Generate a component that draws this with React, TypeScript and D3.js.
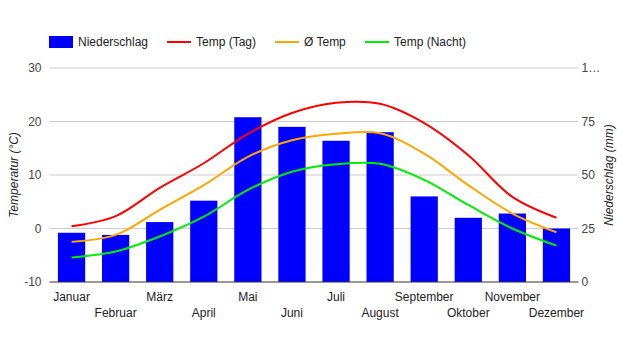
import React, { useEffect, useRef } from 'react'
import * as d3 from 'd3'

const months = [
  'Januar', 'Februar', 'März', 'April', 'Mai', 'Juni',
  'Juli', 'August', 'September', 'Oktober', 'November', 'Dezember',
]
const precipitation = [23, 22, 28, 38, 77, 72.5, 66, 70, 40, 30, 32, 25]
const tempDay = [0.4, 2.3, 7.6, 12.2, 17.7, 21.6, 23.5, 23.3, 19.7, 13.7, 5.9, 2.0]
const tempAvg = [-2.5, -1.2, 3.5, 8.1, 13.4, 16.5, 17.7, 17.8, 14.0, 8.1, 2.8, -0.7]
const tempNight = [-5.4, -4.3, -1.5, 2.2, 7.2, 10.6, 12.0, 12.1, 9.1, 4.4, 0.0, -3.2]
const tempTicks = [-10, 0, 10, 20, 30]
const precipTicks = [0, 25, 50, 75, 100]

const FONT = '"Liberation Sans", Arial, sans-serif'

export default function App() {
  const svgRef = useRef<SVGSVGElement>(null)

  useEffect(() => {
    if (!svgRef.current) return
    const svg = d3.select(svgRef.current)
    svg.selectAll('*').remove()

    const margin = { top: 68, right: 38.5, bottom: 68, left: 49.5 }
    const width = 617
    const height = 350
    const innerWidth = width - margin.left - margin.right
    const innerHeight = height - margin.top - margin.bottom

    const x = d3.scaleBand().domain(months).range([margin.left, margin.left + innerWidth])
    const yTemp = d3.scaleLinear().domain([-10, 30]).range([margin.top + innerHeight, margin.top])
    const yRain = d3.scaleLinear().domain([0, 100]).range([margin.top + innerHeight, margin.top])

    // gridlines
    svg.append('g')
      .selectAll('line')
      .data(tempTicks.slice(1))
      .join('line')
      .attr('x1', margin.left)
      .attr('x2', margin.left + innerWidth)
      .attr('y1', (d) => yTemp(d))
      .attr('y2', (d) => yTemp(d))
      .attr('stroke', '#cccccc')
      .attr('stroke-width', 1)

    // left tick labels
    svg.append('g')
      .selectAll('text')
      .data(tempTicks)
      .join('text')
      .attr('x', margin.left - 8)
      .attr('y', (d) => yTemp(d))
      .attr('dy', '0.35em')
      .attr('text-anchor', 'end')
      .attr('font-family', FONT)
      .attr('font-size', 12)
      .attr('fill', '#444')
      .text((d) => d)

    // right tick labels
    svg.append('g')
      .selectAll('text')
      .data(precipTicks)
      .join('text')
      .attr('x', margin.left + innerWidth + 3)
      .attr('y', (d) => yRain(d))
      .attr('dy', '0.35em')
      .attr('text-anchor', 'start')
      .attr('font-family', FONT)
      .attr('font-size', 12)
      .attr('fill', '#444')
      .text((d) => (d === 100 ? '1…' : d))

    // bars
    const barW = x.bandwidth() * 0.618
    svg.append('g')
      .selectAll('rect')
      .data(precipitation)
      .join('rect')
      .attr('x', (d, i) => (x(months[i]) || 0) + (x.bandwidth() - barW) / 2)
      .attr('y', (d) => yRain(d))
      .attr('width', barW)
      .attr('height', (d) => yRain(0) - yRain(d))
      .attr('fill', '#0000ff')

    // baseline
    svg.append('line')
      .attr('x1', margin.left)
      .attr('x2', margin.left + innerWidth)
      .attr('y1', yTemp(-10))
      .attr('y2', yTemp(-10))
      .attr('stroke', '#333')
      .attr('stroke-width', 1)

    const series = [
      { values: tempDay, color: '#ff0000' },
      { values: tempAvg, color: '#ffa500' },
      { values: tempNight, color: '#00ee00' },
    ]
    const line = d3
      .line<number>()
      .x((d, i) => (x(months[i]) || 0) + x.bandwidth() / 2)
      .y((d) => yTemp(d))
      .curve(d3.curveCatmullRom.alpha(0.5))

    series.forEach((s) => {
      svg.append('path')
        .datum(s.values)
        .attr('fill', 'none')
        .attr('stroke', s.color)
        .attr('stroke-width', 2)
        .attr('d', line)
    })

    // x labels, two rows
    svg.append('g')
      .selectAll('text')
      .data(months)
      .join('text')
      .attr('x', (d) => (x(d) || 0) + x.bandwidth() / 2)
      .attr('y', (d, i) => (i % 2 === 0 ? 301 : 317))
      .attr('text-anchor', 'middle')
      .attr('font-family', FONT)
      .attr('font-size', 12)
      .attr('fill', '#222')
      .text((d) => d)

    // axis titles
    svg.append('text')
      .attr('transform', `translate(18,${margin.top + innerHeight / 2}) rotate(-90)`)
      .attr('text-anchor', 'middle')
      .attr('font-family', FONT)
      .attr('font-size', 12)
      .attr('font-style', 'italic')
      .attr('fill', '#222')
      .text('Temperatur (°C)')

    svg.append('text')
      .attr('transform', `translate(613,${margin.top + innerHeight / 2}) rotate(-90)`)
      .attr('text-anchor', 'middle')
      .attr('font-family', FONT)
      .attr('font-size', 12)
      .attr('font-style', 'italic')
      .attr('fill', '#222')
      .text('Niederschlag (mm)')

    // legend
    const legendData = [
      { label: 'Niederschlag', color: '#0000ff', x: 49, rect: true },
      { label: 'Temp (Tag)', color: '#ff0000', x: 167, rect: false },
      { label: 'Ø Temp', color: '#ffa500', x: 275, rect: false },
      { label: 'Temp (Nacht)', color: '#00ee00', x: 365, rect: false },
    ]
    const legend = svg.append('g')
    legendData.forEach((d) => {
      if (d.rect) {
        legend.append('rect')
          .attr('x', d.x).attr('y', 36).attr('width', 24).attr('height', 12)
          .attr('fill', d.color)
      } else {
        legend.append('line')
          .attr('x1', d.x).attr('x2', d.x + 24).attr('y1', 42).attr('y2', 42)
          .attr('stroke', d.color).attr('stroke-width', 2)
      }
      legend.append('text')
        .attr('x', d.x + 29)
        .attr('y', 42)
        .attr('dy', '0.35em')
        .attr('font-family', FONT)
        .attr('font-size', 12)
        .attr('fill', '#222')
        .text(d.label)
    })
  }, [])

  return (
    <svg
      ref={svgRef}
      width={617}
      height={350}
      style={{ position: 'absolute', left: 0, top: 0, background: '#fff' }}
    />
  )
}
